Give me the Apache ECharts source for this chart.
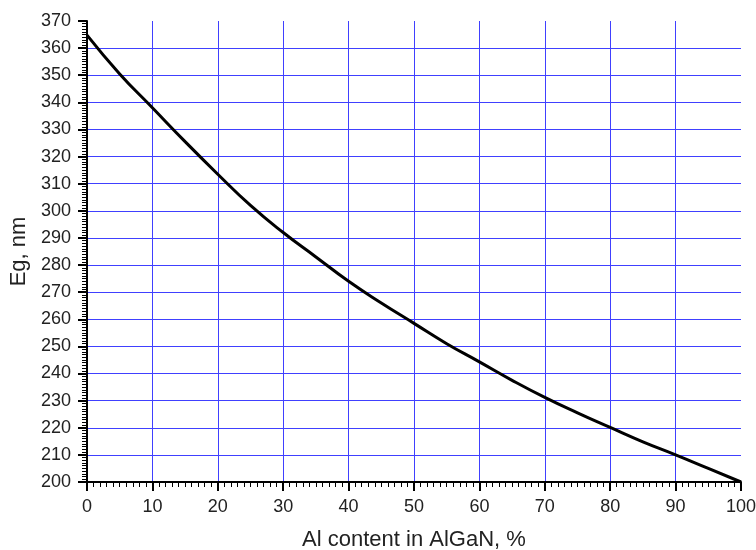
<!DOCTYPE html>
<html>
<head>
<meta charset="utf-8">
<script src="https://cdn.jsdelivr.net/npm/echarts@6/dist/echarts.min.js"></script>
<style>
  html, body { margin: 0; padding: 0; background: #fff; }
  #main { width: 756px; height: 550px; }
</style>
</head>
<body>
<div id="main"></div>
<script>
// Al content, % and band gap wavelength, nm
var alContent = [0, 5, 10, 15, 20, 25, 30, 35, 40, 45, 50, 55, 60, 65, 70, 75, 80, 85, 90, 95, 100];
var egNm = [364.8, 350.5, 338, 325.5, 313.5, 302, 292, 283, 274, 266, 258.5, 251, 244.3, 237.5, 231.2, 225.5, 220.1, 214.8, 210, 205, 200];

var xTicks = { min: 0, max: 100, step: 10 };
var yTicks = { min: 200, max: 370, step: 10 };

var points = alContent.map(function (x, i) { return [x, egNm[i]]; });

var myChart = echarts.init(document.getElementById('main'));
var fontFam = '"Liberation Sans", Arial, sans-serif';

var option = {
    animation: false,
    backgroundColor: '#fff',
    grid: { left: 87, right: 15, top: 21, bottom: 68, outerBoundsMode: 'none', containLabel: false },
    xAxis: {
        type: 'value',
        min: xTicks.min, max: xTicks.max, interval: xTicks.step,
        name: 'Al content in AlGaN, %',
        nameLocation: 'middle',
        nameGap: 47,
        nameTextStyle: { fontFamily: fontFam, fontSize: 22, color: '#222' },
        axisLine: { onZero: false, lineStyle: { color: '#000', width: 2 } },
        axisTick: { length: 9, lineStyle: { color: '#000', width: 2 } },
        minorTick: { show: true, splitNumber: 10, length: 5, lineStyle: { color: '#000', width: 1 } },
        axisLabel: { fontFamily: fontFam, fontSize: 18, color: '#222', margin: 16 },
        splitLine: { show: true, showMinLine: false, showMaxLine: false, lineStyle: { color: '#4040ff', width: 1 } }
    },
    yAxis: {
        type: 'value',
        min: yTicks.min, max: yTicks.max, interval: yTicks.step,
        name: 'Eg, nm',
        nameLocation: 'middle',
        nameGap: 56,
        nameTextStyle: { fontFamily: fontFam, fontSize: 22, color: '#222' },
        axisLine: { show: true, lineStyle: { color: '#000', width: 2 } },
        axisTick: { show: true, length: 9, lineStyle: { color: '#000', width: 2 } },
        minorTick: { show: true, splitNumber: 10, length: 5, lineStyle: { color: '#000', width: 1 } },
        axisLabel: { fontFamily: fontFam, fontSize: 18, color: '#222', margin: 16 },
        splitLine: { show: true, showMinLine: false, showMaxLine: false, lineStyle: { color: '#4040ff', width: 1 } }
    },
    series: [{
        type: 'line',
        data: points,
        smooth: true,
        showSymbol: false,
        lineStyle: { color: '#000', width: 3 }
    }]
};

myChart.setOption(option);
</script>
</body>
</html>
